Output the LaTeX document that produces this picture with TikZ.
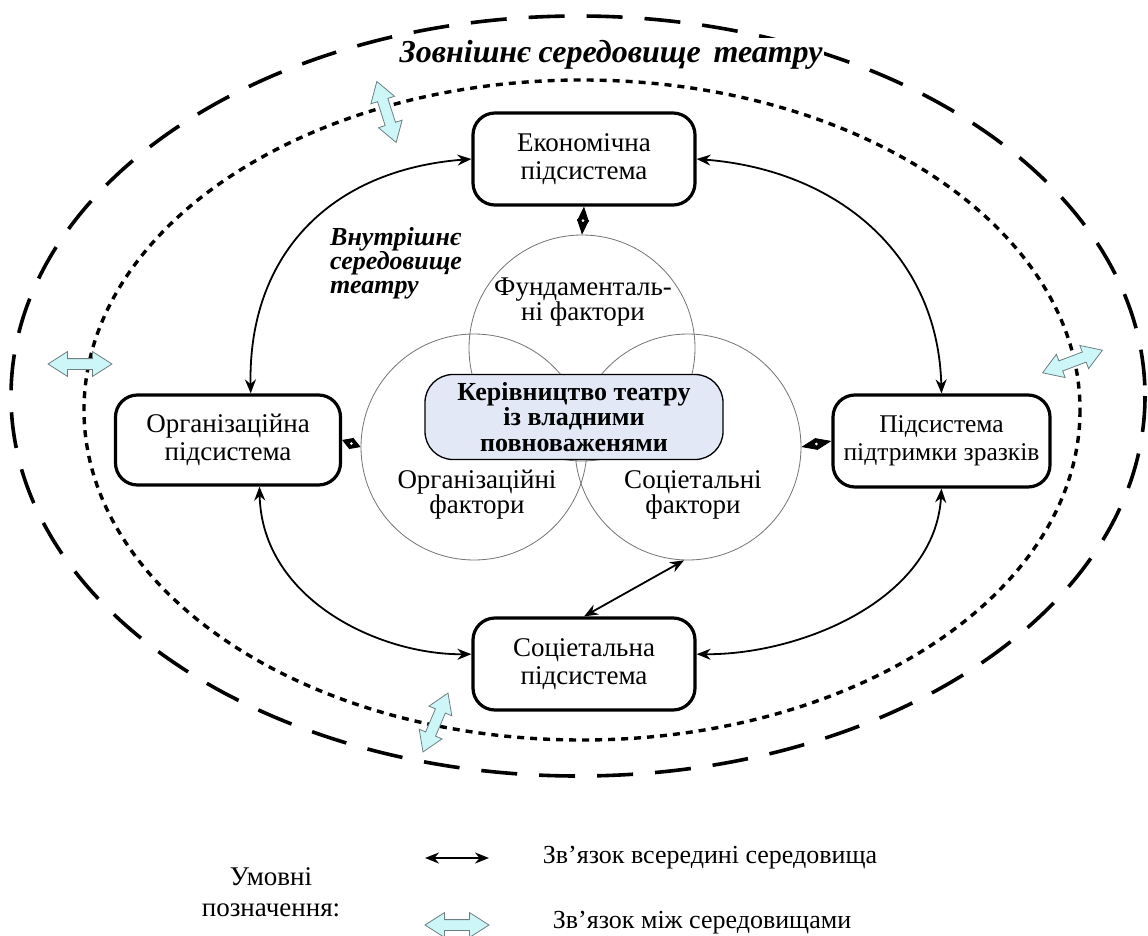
\documentclass[tikz,border=0pt]{standalone}
\usepackage{fontspec}
\setmainfont{Liberation Serif}
\usetikzlibrary{arrows.meta,shapes.arrows}
\definecolor{cyanfill}{HTML}{CCF6F8}
\definecolor{cyanedge}{HTML}{6E7F82}
\definecolor{corefill}{HTML}{E2E8F5}
\begin{document}
\begin{tikzpicture}[x=1pt,y=-1pt,
  subsys/.style={draw, line width=3.2pt, rounded corners=22pt, align=center,
    font=\fontsize{27}{27.5}\selectfont, inner sep=0pt},
  factor/.style={circle, draw=black!55, line width=0.8pt, minimum size=226pt, inner sep=0pt},
  ftext/.style={align=center, font=\fontsize{27}{25}\selectfont, inner sep=0pt},
  biarrow/.style={line width=1.8pt, {Stealth[length=14pt,width=11pt]}-{Stealth[length=14pt,width=11pt]}},
  dlink/.style={line width=0.8pt, {Triangle[length=#1,width=12pt]}-{Triangle[length=#1,width=12pt]}},
  wdot/.style={circle, fill=white, minimum size=3pt, inner sep=0pt},
  cyanarrow/.style={double arrow, draw=cyanedge, fill=cyanfill, line width=0.8pt,
    minimum height=64pt, inner xsep=0pt, inner ysep=5pt, double arrow head extend=7pt,
    double arrow tip angle=65},
  outerring/.style={line width=3.6pt, dash pattern=on 36pt off 22pt},
  innerring/.style={line width=3.4pt, dash pattern=on 7pt off 6pt},
]
\useasboundingbox (0,0) rectangle (1148,936);

% environment rings
\draw[outerring] (578,396) ellipse [x radius=567, y radius=380];
\draw[innerring] (582,410) ellipse [x radius=498, y radius=330];

% title labels
\node[font=\bfseries\itshape\fontsize{32}{34}\selectfont, fill=white, inner sep=2pt] (outt) at (611,55) {Зовнішнє середовище\hspace{0.4em}театру};
\node[anchor=west, align=left, font=\bfseries\itshape\fontsize{26}{23.5}\selectfont, inner sep=0pt] (innt) at (330,263) {Внутрішнє\\середовище\\театру};

% factor circles
\node[factor] (tc) at (582,348) {};
\node[factor] (lc) at (474,447) {};
\node[factor] (rc) at (688,447) {};

\node[ftext] (ft) at (583,302) {Фундаменталь-\\ні фактори};
\node[ftext] (lt) at (477,495) {Організаційні\\фактори};
\node[ftext] (rt) at (693,495) {Соціетальні\\фактори};

% core
\node[draw, line width=1.3pt, fill=corefill, rounded corners=28pt, minimum width=298pt, minimum height=85pt,
  align=center, font=\bfseries\fontsize{26}{25.5}\selectfont, inner sep=0pt] (core) at (574,417)
  {Керівництво театру\\із владними\\повноваженями};

% subsystems
\node[subsys, minimum width=222pt, minimum height=92pt] (econ) at (584,159) {Економічна\\підсистема};
\node[subsys, minimum width=225pt, minimum height=90pt] (org) at (228,440) {Організаційна\\підсистема};
\node[subsys, minimum width=217pt, minimum height=92pt, font=\fontsize{25.5}{27.5}\selectfont] (pod) at (941.5,441) {Підсистема\\підтримки зразків};
\node[subsys, minimum width=222pt, minimum height=92pt] (soc) at (584,664) {Соціетальна\\підсистема};

% internal links
\draw[biarrow] (econ.west) .. controls (330,170) and (248,255) .. (org.64);
\draw[biarrow] (econ.east) .. controls (838,170) and (938,255) .. (pod.north);
\draw[biarrow] (org.-56) .. controls (262,600) and (380,655) .. (soc.175);
\draw[biarrow] (pod.south) .. controls (935,600) and (800,655) .. (soc.5);
\draw[biarrow] (soc.north) -- (rc.-92);

% diamond links
\draw[dlink=15pt] (econ.south) -- (tc.north) node[midway, wdot] (d1) {};
\draw[dlink=10.25pt] (org.east) -- (lc.west) node[midway, wdot] (d2) {};
\draw[dlink=15.75pt] (rc.east) -- (pod.west) node[midway, wdot] (d3) {};

% cross-environment arrows
\node[cyanarrow, rotate=-72.4] (ca1) at (386.5,112) {};
\node[cyanarrow] (ca2) at (80,364) {};
\node[cyanarrow, rotate=20.7] (ca3) at (1072.5,361.5) {};
\node[cyanarrow, rotate=67] (ca4) at (435.5,722.5) {};

% legend
\node[align=center, font=\fontsize{27}{31}\selectfont, inner sep=0pt] (leg) at (271,892) {Умовні\\позначення:};
\coordinate (la1) at (425,858);
\coordinate (la2) at (489,858);
\draw[line width=1.8pt, {Stealth[length=14pt,width=11pt]}-{Stealth[length=14pt,width=11pt]}] (la1) -- (la2);
\node[font=\fontsize{26}{28}\selectfont, inner sep=0pt] (lt1) at (710,858) {Зв’язок всередині середовища};
\node[cyanarrow] (ca5) at (457,925) {};
\node[font=\fontsize{26}{28}\selectfont, inner sep=0pt] (lt2) at (702,923) {Зв’язок між середовищами};
\end{tikzpicture}
\end{document}
